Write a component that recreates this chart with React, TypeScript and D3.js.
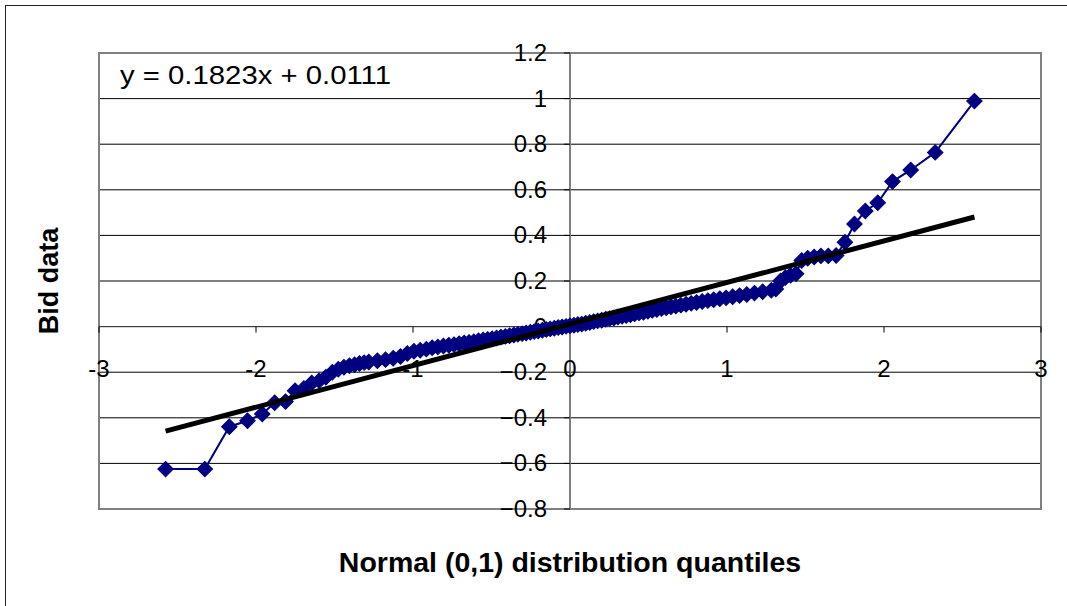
import * as d3 from "d3"

// normal quantiles (x) and sorted bid values (y)
const quantiles = [
  -2.576, -2.326, -2.17, -2.054, -1.96, -1.881, -1.812, -1.751, -1.695, -1.645,
  -1.598, -1.555, -1.514, -1.476, -1.44, -1.405, -1.372, -1.341, -1.311,
  -1.282, -1.227, -1.175, -1.126, -1.08, -1.036, -0.994, -0.954, -0.915, -0.878,
  -0.842, -0.806, -0.772, -0.739, -0.706, -0.674, -0.643, -0.613, -0.583, -0.553,
  -0.524, -0.496, -0.468, -0.44, -0.412, -0.385, -0.358, -0.332, -0.305, -0.279,
  -0.253, -0.228, -0.202, -0.176, -0.151, -0.126, -0.1, -0.075, -0.05, -0.025,
  0, 0.025, 0.05, 0.075, 0.1, 0.126, 0.151, 0.176, 0.202, 0.228,
  0.253, 0.279, 0.305, 0.332, 0.358, 0.385, 0.412, 0.44, 0.468, 0.496,
  0.524, 0.553, 0.583, 0.613, 0.643, 0.674, 0.706, 0.739, 0.772, 0.806,
  0.842, 0.878, 0.915, 0.954, 0.994, 1.036, 1.08, 1.126, 1.175, 1.227, 1.282,
  1.311, 1.341, 1.372, 1.405, 1.44, 1.476, 1.514, 1.555, 1.598, 1.645,
  1.695, 1.751, 1.812, 1.881, 1.96, 2.054, 2.17, 2.326, 2.576,
]
const bids = [
  -0.625, -0.625, -0.439, -0.413, -0.383, -0.334, -0.329, -0.281, -0.271, -0.247,
  -0.237, -0.222, -0.2, -0.187, -0.178, -0.172, -0.167, -0.162, -0.158,
  -0.155, -0.15, -0.145, -0.139, -0.131, -0.118, -0.108, -0.104, -0.099, -0.093,
  -0.089, -0.085, -0.082, -0.079, -0.075, -0.072, -0.069, -0.066, -0.062, -0.059,
  -0.056, -0.053, -0.05, -0.046, -0.043, -0.04, -0.037, -0.034, -0.031, -0.028,
  -0.025, -0.022, -0.019, -0.016, -0.013, -0.01, -0.007, -0.004, -0.002, 0.001,
  0.004, 0.006, 0.009, 0.011, 0.015, 0.018, 0.022, 0.025, 0.028, 0.032,
  0.035, 0.038, 0.042, 0.045, 0.049, 0.052, 0.056, 0.06, 0.063, 0.067,
  0.071, 0.075, 0.079, 0.083, 0.087, 0.09, 0.094, 0.098, 0.102, 0.106,
  0.11, 0.114, 0.118, 0.122, 0.126, 0.131, 0.136, 0.141, 0.147, 0.153, 0.159,
  0.165, 0.2, 0.215, 0.225, 0.232, 0.29, 0.3, 0.305, 0.31, 0.31,
  0.312, 0.37, 0.45, 0.507, 0.543, 0.636, 0.687, 0.764, 0.989,
]

const xTicks = [-3, -2, -1, 0, 1, 2, 3]
const yTicks = [-0.8, -0.6, -0.4, -0.2, 0, 0.2, 0.4, 0.6, 0.8, 1, 1.2]
const trendSlope = 0.1823
const trendIntercept = 0.0111

const W = 1067
const H = 606
const plot = { left: 99, right: 1041, top: 53, bottom: 509 }
const font = "'Liberation Sans', Arial, sans-serif"
const navy = "#000080"

export default function App() {
  const x = d3.scaleLinear().domain([-3, 3]).range([plot.left, plot.right])
  const y = d3.scaleLinear().domain([-0.8, 1.2]).range([plot.bottom, plot.top])

  const points = quantiles.map((q, i) => ({ q, v: bids[i] }))
  const path = d3
    .line<{ q: number; v: number }>()
    .x((d) => x(d.q))
    .y((d) => y(d.v))(points)

  // excel-style diamond: a rotated square
  const diamond = d3.symbol().type(d3.symbolSquare).size(120)() ?? ""

  const qMin = d3.min(quantiles) ?? -3
  const qMax = d3.max(quantiles) ?? 3

  return (
    <svg width={W} height={H} style={{ position: "absolute", left: 0, top: 0 }} fontFamily={font}>
      <rect x={0} y={0} width={W} height={H} fill="#fff" />
      <rect x={5.5} y={5.5} width={W + 20} height={H + 20} fill="none" stroke="#222" strokeWidth={1} />

      {/* gridlines */}
      {yTicks
        .filter((t) => t > -0.8 && t < 1.2)
        .map((t) => (
          <line key={"g" + t} x1={plot.left} x2={plot.right} y1={y(t)} y2={y(t)} stroke="#000" strokeWidth={1} />
        ))}

      <rect
        x={plot.left}
        y={plot.top}
        width={plot.right - plot.left}
        height={plot.bottom - plot.top}
        fill="none"
        stroke="#808080"
        strokeWidth={2}
      />

      {/* axes crossing at zero */}
      <line x1={x(0)} x2={x(0)} y1={plot.top} y2={plot.bottom} stroke="#808080" strokeWidth={2} />
      <line x1={plot.left} x2={plot.right} y1={y(0)} y2={y(0)} stroke="#404040" strokeWidth={1} />

      {xTicks.map((t) => (
        <g key={"x" + t}>
          <line x1={x(t)} x2={x(t)} y1={y(0)} y2={y(0) + 6} stroke="#000" />
          <text x={x(t)} y={y(0) + 50} fontSize={24} textAnchor="middle">
            {t}
          </text>
        </g>
      ))}
      {yTicks.map((t) => (
        <g key={"y" + t}>
          <line x1={x(0) - 6} x2={x(0)} y1={y(t)} y2={y(t)} stroke="#000" />
          <text x={x(0) - 23} y={y(t) + 8} fontSize={24} textAnchor="end">
            {d3.format("")(+t.toFixed(1))}
          </text>
        </g>
      ))}

      {/* data series */}
      <path d={path ?? ""} fill="none" stroke={navy} strokeWidth={2} />
      {points.map((d, i) => (
        <path
          key={i}
          d={diamond}
          transform={`translate(${x(d.q)},${y(d.v)}) rotate(45)`}
          fill={navy}
          stroke={navy}
          strokeWidth={1}
        />
      ))}

      {/* linear trendline */}
      <line
        x1={x(qMin)}
        x2={x(qMax)}
        y1={y(trendSlope * qMin + trendIntercept)}
        y2={y(trendSlope * qMax + trendIntercept)}
        stroke="#000"
        strokeWidth={5}
      />

      <text x={120} y={84} fontSize={25} textLength={271} lengthAdjust="spacingAndGlyphs">
        y = 0.1823x + 0.0111
      </text>

      <text x={x(0)} y={572} fontSize={28.5} fontWeight="bold" textAnchor="middle">
        Normal (0,1) distribution quantiles
      </text>
      <text
        transform={`translate(58,${(plot.top + plot.bottom) / 2}) rotate(-90)`}
        fontSize={27}
        fontWeight="bold"
        textAnchor="middle"
      >
        Bid data
      </text>
    </svg>
  )
}
